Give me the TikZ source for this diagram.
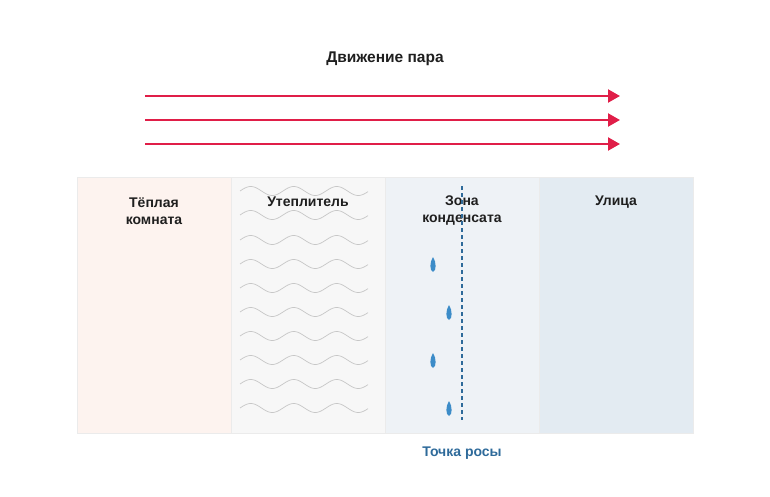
\documentclass[tikz,border=0pt]{standalone}
\usepackage{fontspec}
\setmainfont{Liberation Sans}
\usetikzlibrary{arrows.meta}
\definecolor{p1}{HTML}{FDF3EF}\definecolor{p2}{HTML}{F7F7F7}
\definecolor{p3}{HTML}{EEF2F6}\definecolor{p4}{HTML}{E3EBF2}
\definecolor{dew}{HTML}{2E6A9A}
\begin{document}
\begin{tikzpicture}[x=1pt,y=-1pt,
  lab/.style={font=\bfseries\fontsize{14}{17}\selectfont,align=center,text=black!88},
  arr/.style={draw={rgb,255:red,224;green,30;blue,72},line width=2.2pt,-{Triangle[length=12pt,width=13pt]}},
  panel/.style={draw=black!8,line width=0.5pt},
  wave/.style={draw=black!22,line width=0.7pt},
  drop/.style={fill={rgb,255:red,60;green,140;blue,200},draw=none}]
\useasboundingbox (0,0) rectangle (770,497);
\node[lab,font=\bfseries\fontsize{15.5}{18}\selectfont] (title) at (385,59) {Движение пара};
\foreach \y/\n in {96/a,120/b,144/c}{
  \coordinate (s\n) at (145,\y); \coordinate (e\n) at (620,\y);
  \draw[arr] (s\n) -- (e\n);}
\fill[p1] (77,177) rectangle (231,433);
\fill[p2] (231,177) rectangle (385,433);
\fill[p3] (385,177) rectangle (539,433);
\fill[p4] (539,177) rectangle (693,433);
\draw[panel] (77,177) rectangle (693,433);
\draw[panel] (231,177) -- (231,433) (385,177) -- (385,433) (539,177) -- (539,433);
\foreach \yy in {191,215,240,264,288,312,336,360,384,408}
  \draw[wave] plot[domain=0:128,samples=90,smooth] ({240+\x},{\yy-4.5*sin(\x*8.372)});
\node[lab] (warm) at (154,211) {Тёплая\\комната};
\node[lab] (ins) at (308,202) {Утеплитель};
\node[lab] (zone) at (462,211) {Зона\\конденсата};
\node[lab] (street) at (616,202) {Улица};
\node[lab,text=dew] (dp) at (462,453) {Точка росы};
\coordinate (dt) at (462,186); \coordinate (db) at (462,420);
\draw[dew,line width=1.3pt,dash pattern=on 4pt off 3pt] (dt) -- (db);
\foreach \x/\y in {433/265,449/313,433/361,449/409}
  \fill[drop] (\x,\y-8) .. controls (\x+3.5,\y-3) and (\x+3.5,\y+6) .. (\x,\y+7) .. controls (\x-3.5,\y+6) and (\x-3.5,\y-3) .. (\x,\y-8);
\end{tikzpicture}
\end{document}
